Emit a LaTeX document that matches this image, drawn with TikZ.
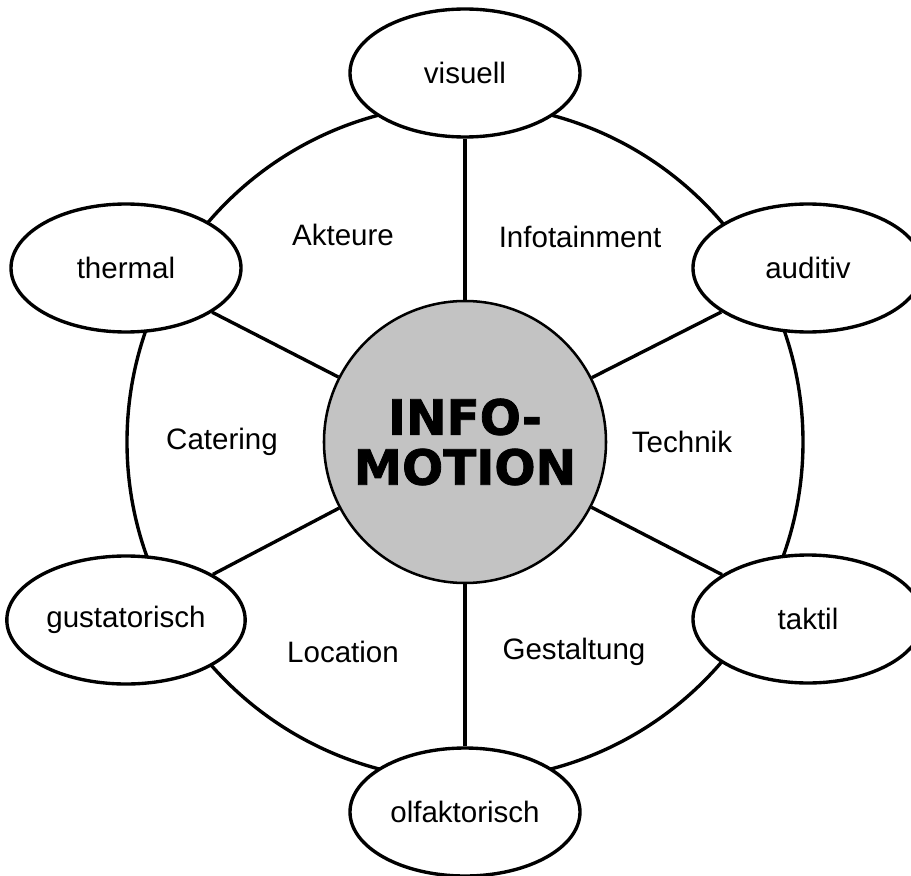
\documentclass[tikz,border=0pt]{standalone}
\usepackage{fontspec}
\setmainfont{Liberation Sans}
\newfontfamily\heavyfont[BoldFeatures={FakeBold=1.6}]{DejaVu Sans}
\usepackage{tikz}
\usetikzlibrary{shapes.geometric}
\definecolor{hubgray}{RGB}{195,195,195}
\tikzstyle{sense} = [ellipse, minimum width=5.75cm, minimum height=3.2cm, draw=black, line width=2.4pt, fill=white, font=\fontsize{21}{25}\selectfont]
\tikzstyle{hub} = [circle, minimum size=7.05cm, draw=black, line width=1.8pt, fill=hubgray, align=center, font=\heavyfont\bfseries\fontsize{34.5}{35.6}\selectfont]
\tikzstyle{field} = [font=\fontsize{21}{25}\selectfont]
\tikzstyle{spoke} = [line width=2.4pt]

\begin{document}
\begin{tikzpicture}
\useasboundingbox (-11.625,-10.825) rectangle (11.15,11.05);
% outer ring, drawn first so the ellipses cover it
\draw[line width=2.4pt] (0,0) circle (8.45cm);
\node(hub)[hub] at (0,0) {INFO-\\MOTION};
\node(vis)[sense] at (0,9.225) {visuell};
\node(aud)[sense] at (8.575,4.35) {auditiv};
\node(tak)[sense] at (8.575,-4.425) {taktil};
\node(olf)[sense] at (0,-9.25) {olfaktorisch};
\node(gus)[sense] at (-8.475,-4.45) {gustatorisch};
\node(the)[sense] at (-8.475,4.35) {thermal};
\draw[spoke](hub) -- (vis);
\draw[spoke](hub) -- (aud);
\draw[spoke](hub) -- (tak);
\draw[spoke](hub) -- (olf);
\draw[spoke](hub) -- (gus);
\draw[spoke](hub) -- (the);
% fields between the spokes
\node(akt)[field] at (-3.05,5.175) {Akteure};
\node(inf)[field] at (2.875,5.125) {Infotainment};
\node(tec)[field] at (5.425,0) {Technik};
\node(ges)[field] at (2.725,-5.25) {Gestaltung};
\node(loc)[field] at (-3.05,-5.25) {Location};
\node(cat)[field] at (-6.075,0) {Catering};
\end{tikzpicture}
\end{document}
